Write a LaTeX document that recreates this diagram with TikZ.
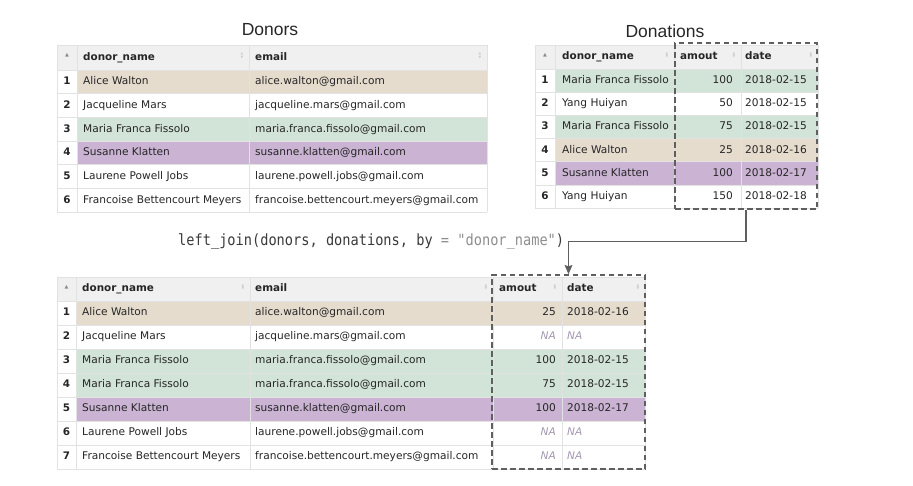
\documentclass[tikz,border=0pt]{standalone}
\usepackage{fontspec}
\setmainfont{DejaVu Sans}
\newfontfamily\titlefont{Liberation Sans}
\newfontfamily\codefont[FakeStretch=0.88,Ligatures=TeXOff]{DejaVu Sans Mono}
\usetikzlibrary{arrows.meta}
\definecolor{ink}{HTML}{262626}
\definecolor{tan}{HTML}{E5DCCE}
\definecolor{sage}{HTML}{D2E3D8}
\definecolor{lilac}{HTML}{CAB3D3}
\definecolor{headfill}{HTML}{F0F0F0}
\definecolor{gridline}{HTML}{E2E2E2}
\definecolor{boxgray}{HTML}{5F5F5F}
\definecolor{nagray}{HTML}{A698B3}
\definecolor{codeink}{HTML}{3A3A3A}
\definecolor{codegray}{HTML}{8E8E8E}
\tikzstyle{txt} = [inner sep=0pt, text height=8pt, text depth=2.4pt, font=\fontsize{10.6}{12}\selectfont, text=ink]
\tikzstyle{bold} = [txt, font=\fontsize{10.4}{12}\selectfont\bfseries]
\tikzstyle{na} = [txt, text=nagray, font=\fontsize{10.6}{12}\selectfont\itshape]
\tikzstyle{gridrule} = [draw=gridline, line width=0.8pt]
\tikzstyle{sorticon} = [inner sep=0pt, align=center, text=black!20, font=\fontsize{3.5}{3.8}\selectfont]
\tikzstyle{uptick} = [inner sep=0pt, text=black!45, font=\fontsize{5}{5}\selectfont]
\tikzstyle{joinbox} = [draw=boxgray, line width=1.5pt, dash pattern=on 5.5pt off 3.5pt, inner sep=0pt]
\tikzstyle{arrow} = [line width=1.8pt, draw=boxgray, -{Stealth[length=9pt, width=7.5pt, inset=1pt]}]
\tikzstyle{title} = [font=\titlefont\fontsize{17.5}{20}\selectfont, text=ink]
\tikzstyle{codeline} = [inner sep=0pt, font=\codefont\fontsize{15.5}{18}\selectfont, text=codeink]
\begin{document}
\begin{tikzpicture}[x=1pt, y=-1pt]
        \useasboundingbox (0,0) rectangle (913,485);
        \node (donorstitle) [title] at (270,30) {Donors};
        \node (donationstitle) [title] at (665,31) {Donations};

        % donors table
        \fill [headfill] (57,45) rectangle (487,70);
        \foreach \i/\nm/\mail/\shade in {1/Alice Walton/alice.walton@gmail.com/tan,
          2/Jacqueline Mars/jacqueline.mars@gmail.com/white,
          3/Maria Franca Fissolo/maria.franca.fissolo@gmail.com/sage,
          4/Susanne Klatten/susanne.klatten@gmail.com/lilac,
          5/Laurene Powell Jobs/laurene.powell.jobs@gmail.com/white,
          6/Francoise Bettencourt Meyers/francoise.bettencourt.meyers@gmail.com/white} {
          \fill [\shade] (77,{70+23.7*(\i-1)}) rectangle (487,{70+23.7*\i});
          \node (d-\i-idx) [bold] at (67,{70+23.7*(\i-0.5)}) {\i};
          \node (d-\i-name) [txt, anchor=west] at (83,{70+23.7*(\i-0.5)}) {\nm};
          \node (d-\i-mail) [txt, anchor=west] at (255,{70+23.7*(\i-0.5)}) {\mail};
        }
        \foreach \k in {0,...,6} \draw [gridrule] (57,{70+23.7*\k}) -- (487,{70+23.7*\k});
        \draw [gridrule] (57,45) -- (487,45);
        \foreach \x in {57,77,249,487} \draw [gridrule] (\x,45) -- (\x,212.2);
        \node (d-h-name) [bold, anchor=west] at (83,57.5) {donor\_name};
        \node (d-h-mail) [bold, anchor=west] at (255,57.5) {email};

        % donations table
        \fill [headfill] (535,45) rectangle (818,69);
        \foreach \i/\nm/\shade/\amt/\dt in {1/Maria Franca Fissolo/sage/100/2018-02-15,
          2/Yang Huiyan/white/50/2018-02-15,
          3/Maria Franca Fissolo/sage/75/2018-02-15,
          4/Alice Walton/tan/25/2018-02-16,
          5/Susanne Klatten/lilac/100/2018-02-17,
          6/Yang Huiyan/white/150/2018-02-18} {
          \fill [\shade] (555,{69+23.2*(\i-1)}) rectangle (818,{69+23.2*\i});
          \node (g-\i-idx) [bold] at (545,{69+23.2*(\i-0.5)}) {\i};
          \node (g-\i-name) [txt, anchor=west] at (562,{69+23.2*(\i-0.5)}) {\nm};
          \node (g-\i-amt) [txt, anchor=east] at (733,{69+23.2*(\i-0.5)}) {\amt};
          \node (g-\i-date) [txt, anchor=west] at (745,{69+23.2*(\i-0.5)}) {\dt};
        }
        \foreach \k in {0,...,6} \draw [gridrule] (535,{69+23.2*\k}) -- (818,{69+23.2*\k});
        \draw [gridrule] (535,45) -- (818,45);
        \foreach \x in {535,555,674,741,818} \draw [gridrule] (\x,45) -- (\x,208.2);
        \node (g-h-name) [bold, anchor=west] at (562,57) {donor\_name};
        \node (g-h-amt) [bold, anchor=west] at (680,57) {amout};
        \node (g-h-date) [bold, anchor=west] at (745,57) {date};

        % joined table
        \fill [headfill] (57,277) rectangle (645,301);
        \foreach \i/\nm/\mail/\shade/\amt/\dt/\st in {1/Alice Walton/alice.walton@gmail.com/tan/25/2018-02-16/txt,
          2/Jacqueline Mars/jacqueline.mars@gmail.com/white/NA/NA/na,
          3/Maria Franca Fissolo/maria.franca.fissolo@gmail.com/sage/100/2018-02-15/txt,
          4/Maria Franca Fissolo/maria.franca.fissolo@gmail.com/sage/75/2018-02-15/txt,
          5/Susanne Klatten/susanne.klatten@gmail.com/lilac/100/2018-02-17/txt,
          6/Laurene Powell Jobs/laurene.powell.jobs@gmail.com/white/NA/NA/na,
          7/Francoise Bettencourt Meyers/francoise.bettencourt.meyers@gmail.com/white/NA/NA/na} {
          \fill [\shade] (76,{301+24*(\i-1)}) rectangle (645,{301+24*\i});
          \node (r-\i-idx) [bold] at (66.5,{301+24*(\i-0.5)}) {\i};
          \node (r-\i-name) [txt, anchor=west] at (82,{301+24*(\i-0.5)}) {\nm};
          \node (r-\i-mail) [txt, anchor=west] at (255,{301+24*(\i-0.5)}) {\mail};
          \node (r-\i-amt) [\st, anchor=east] at (556,{301+24*(\i-0.5)}) {\amt};
          \node (r-\i-date) [\st, anchor=west] at (567,{301+24*(\i-0.5)}) {\dt};
        }
        \foreach \k in {0,...,7} \draw [gridrule] (57,{301+24*\k}) -- (645,{301+24*\k});
        \draw [gridrule] (57,277) -- (645,277);
        \foreach \x in {57,76,250,493,562,645} \draw [gridrule] (\x,277) -- (\x,469);
        \node (r-h-name) [bold, anchor=west] at (82,289) {donor\_name};
        \node (r-h-mail) [bold, anchor=west] at (255,289) {email};
        \node (r-h-amt) [bold, anchor=west] at (499,289) {amout};
        \node (r-h-date) [bold, anchor=west] at (567,289) {date};

        % sort markers in the headers
        \node (d-h-up) [uptick] at (67,55) {▲};
        \node (g-h-up) [uptick] at (545,55) {▲};
        \node (r-h-up) [uptick] at (66.5,287) {▲};
        \foreach \x/\y in {242/55.5,480/55.5,667/55,734/55,811/55,243/287,486/287,555/287,638/287}
          \node (sort-\x-\y) [sorticon] at (\x,\y) {▲\\▼};

        % the join
        \node (call) [codeline, anchor=base west] at (178,245.5) {left\_join(donors, donations, by {\color{codegray}= "donor\_name"})};
        \node (newcols) [joinbox, minimum width=142pt, minimum height=166pt] at (746,126) {};
        \node (joincols) [joinbox, minimum width=153pt, minimum height=194pt] at (568.5,372) {};
        \draw [arrow] (newcols.south) |- (joincols.north |- call.east) -- (joincols.north);

      \end{tikzpicture}
\end{document}
